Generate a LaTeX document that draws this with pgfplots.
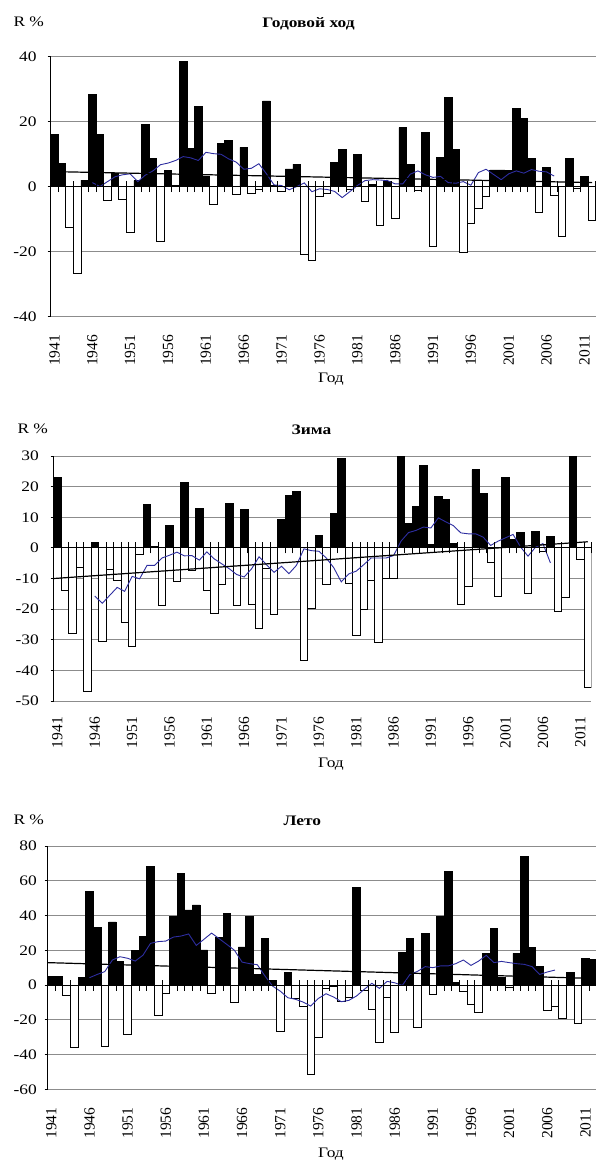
\documentclass[border=0pt]{standalone}
\usepackage{pgfplots}
\pgfplotsset{compat=1.18}
\usepackage{pgfplotstable}
\usepackage{fontspec}
\setmainfont{Liberation Serif}[FakeStretch=1.2]
\newfontfamily\rotfont{Liberation Serif}
\definecolor{mablue}{RGB}{45,45,160}
\definecolor{gridgray}{RGB}{140,140,140}

% R % anomalies: a = annual, w = winter, s = summer
\pgfplotstableread{
year a w s
1941 16.0 23.1 4.8
1942 7.0 -14.0 5.2
1943 -12.5 -27.8 -5.8
1944 -26.6 -6.5 -36.1
1945 2.0 -46.7 4.2
1946 28.3 1.9 53.7
1947 16.0 -30.5 33.4
1948 -4.2 -7.1 -35.5
1949 4.1 -10.7 36.3
1950 -4.0 -24.2 13.8
1951 -14.2 -32.2 -28.6
1952 1.8 -2.2 19.8
1953 19.1 14.3 27.8
1954 8.7 0.5 68.1
1955 -17.0 -18.9 -17.5
1956 4.8 7.4 -4.8
1957 0.3 -11.1 39.7
1958 38.5 21.3 64.1
1959 11.7 -7.3 43.2
1960 24.5 12.9 46.1
1961 3.1 -14.0 20.2
1962 -5.6 -21.3 -5.0
1963 13.1 -12.0 27.4
1964 14.2 14.5 41.1
1965 -2.3 -18.9 -9.8
1966 12.0 12.5 21.9
1967 -2.2 -18.3 39.3
1968 -1.0 -26.4 6.1
1969 26.3 -6.8 26.7
1970 0.3 -21.8 2.9
1971 -1.5 9.3 -26.9
1972 5.4 17.1 7.5
1973 6.9 18.5 -7.7
1974 -20.8 -36.6 -12.1
1975 -22.7 -19.6 -51.4
1976 -3.0 4.0 -30.3
1977 -2.0 -11.9 -1.9
1978 7.4 11.1 -0.5
1979 11.3 29.3 -9.6
1980 -1.0 -11.5 -6.9
1981 9.9 -28.6 56.4
1982 -4.5 -20.2 -3.1
1983 0.5 -10.5 -14.0
1984 -11.8 -30.9 -33.2
1985 1.5 -10.1 -6.9
1986 -9.9 -9.9 -27.1
1987 18.1 31.0 18.6
1988 6.7 8.1 26.7
1989 -1.3 13.5 -24.6
1990 16.6 26.9 29.9
1991 -18.5 1.0 -5.4
1992 8.8 16.9 39.3
1993 27.4 15.9 65.5
1994 11.5 1.5 1.3
1995 -20.3 -18.5 -3.8
1996 -11.4 -12.5 -11.3
1997 -6.7 25.5 -15.7
1998 -3.0 17.8 18.2
1999 5.1 -4.9 32.6
2000 5.1 -15.7 4.2
2001 4.8 22.9 -1.5
2002 24.1 2.7 18.2
2003 21.0 5.1 74.1
2004 8.5 -14.7 21.5
2005 -8.0 5.5 10.9
2006 5.8 -1.3 -14.6
2007 -2.7 3.8 -12.5
2008 -15.2 -20.9 -19.4
2009 8.5 -16.2 7.3
2010 -0.5 31.0 -21.9
2011 3.0 -3.6 15.4
2012 -10.5 -45.5 14.6
}\bars

% 11-year moving averages
\pgfplotstableread{
year a w s
1946 1.2 -15.7 4.2
1947 0.0 -18.1 6.1
1948 1.5 -15.5 7.7
1949 3.0 -12.9 14.4
1950 3.6 -14.2 16.3
1951 3.9 -9.3 15.4
1952 1.5 -10.1 13.8
1953 3.5 -5.7 17.1
1954 4.8 -5.7 24.0
1955 6.7 -3.3 25.0
1956 7.2 -2.4 25.3
1957 8.0 -1.4 27.6
1958 9.2 -2.6 28.2
1959 8.8 -2.5 29.4
1960 8.0 -4.0 22.8
1961 10.5 -1.3 26.3
1962 10.1 -3.6 29.9
1963 9.9 -5.2 26.7
1964 8.5 -6.8 23.4
1965 7.5 -8.7 20.0
1966 5.3 -9.5 13.2
1967 5.6 -6.8 12.3
1968 7.0 -2.9 11.7
1969 3.9 -5.5 5.2
1970 0.5 -8.0 -0.6
1971 0.3 -6.0 -3.5
1972 -1.0 -8.4 -7.3
1973 0.0 -5.7 -8.2
1974 1.1 -0.3 -9.8
1975 -1.6 -0.9 -12.1
1976 -0.7 -1.1 -7.7
1977 -0.9 -3.3 -5.0
1978 -1.5 -6.5 -6.9
1979 -3.4 -11.1 -9.6
1980 -1.6 -8.5 -8.8
1981 0.3 -7.6 -6.3
1982 1.8 -5.5 -2.5
1983 2.1 -3.3 1.0
1984 2.0 -3.3 -1.9
1985 1.8 -3.3 2.1
1986 0.8 -2.5 1.3
1987 0.8 2.2 -0.2
1988 3.8 5.0 6.1
1989 4.8 5.7 7.9
1990 3.6 6.8 10.6
1991 2.8 6.5 10.0
1992 3.1 9.8 11.0
1993 1.2 8.5 11.0
1994 1.0 7.3 12.3
1995 1.5 4.9 14.4
1996 0.4 4.6 11.3
1997 4.3 4.6 13.8
1998 5.3 3.5 17.1
1999 3.7 0.8 12.9
2000 2.1 2.2 13.6
2001 3.9 3.3 12.9
2002 4.8 4.4 12.3
2003 4.1 0.3 11.9
2004 5.2 -2.7 10.6
2005 4.7 0.2 6.1
2006 4.5 1.4 7.5
2007 3.2 -4.9 8.6
}\ma

\pgfplotsset{
  panel/.style={
    scale only axis, anchor=south west,
    xmin=1940.5, xmax=2012.5,
    axis x line*=bottom, axis y line*=left,
    x axis line style={draw=none},
    y axis line style={black, line width=0.8pt},
    xtick={1941,1946,...,2011},
    xticklabels={1941,1946,1951,1956,1961,1966,1971,1976,1981,1986,1991,1996,2001,2006,2011},
    xtick style={draw=none},
    ytick style={black, line width=0.8pt},
    tick align=outside, major tick length=3pt,
    xticklabel style={rotate=90, anchor=east, inner sep=0pt,
      font=\rotfont\fontsize{15.5}{15.5}\selectfont},
    yticklabel style={anchor=east, inner sep=0pt,
      font=\fontsize{14.5}{15}\selectfont},
    ymajorgrids, major grid style={gridgray, line width=0.8pt},
  },
  zeroaxis/.style={
    scale only axis, anchor=south west,
    xmin=1940.5, xmax=2012.5,
    axis x line=middle, axis y line=none,
    x axis line style={-, black, line width=1pt},
    xtick={1940.5,1941.5,...,2012.5}, xticklabels={}, ytick=\empty,
    tick align=center, major tick length=11pt,
    xtick style={black, line width=0.8pt},
  },
  posbar/.style={ybar, bar width=1, bar shift=0pt, fill=black, draw=black,
    line width=0.8pt, restrict y to domain=0:1000},
  negbar/.style={ybar, bar width=1, bar shift=0pt, fill=white, draw=black,
    line width=0.8pt, restrict y to domain=-1000:0},
  maline/.style={mablue, line width=0.9pt, mark=none},
  trend/.style={black, line width=1.2pt, mark=none},
}

\begin{document}
\begin{tikzpicture}[x=1pt,y=1pt]
\tikzset{lab/.style={font=\fontsize{14.5}{15}\selectfont, inner sep=0pt},
         ttl/.style={font=\bfseries\fontsize{14.5}{15}\selectfont, inner sep=0pt}}

% ---------------- Panel 1: annual ----------------
\begin{axis}[panel, at={(50.7pt,-316.7pt)}, width=545.1pt, height=260.4pt,
  ymin=-40, ymax=40, ytick={-40,-20,0,20,40}, yticklabels={-40,-20,0,20,40},
  xticklabel shift=15pt, yticklabel shift=11pt]
  \addplot[negbar] table[x=year,y=a] {\bars};
  \addplot[posbar] table[x=year,y=a] {\bars};
  \addplot[maline] table[x=year,y=a] {\ma};
  \addplot[trend] coordinates {(1940.5,4.6) (2012,1.2)};
\end{axis}
\begin{axis}[zeroaxis, at={(50.7pt,-316.7pt)}, width=545.1pt, height=260.4pt,
  ymin=-40, ymax=40]
\end{axis}
\node[lab, anchor=base west] at (13.3,-26.7) {R \%};
\node[ttl, anchor=base] at (308.5,-27.3) {Годовой ход};
\node[lab, anchor=base] at (331,-382.5) {Год};

% ---------------- Panel 2: winter ----------------
\begin{axis}[panel, at={(53.7pt,-701pt)}, width=537.8pt, height=245pt,
  ymin=-50, ymax=30, ytick={-50,-40,...,30}, yticklabels={-50,-40,-30,-20,-10,0,10,20,30},
  xticklabel shift=13pt, yticklabel shift=11.7pt]
  \addplot[negbar] table[x=year,y=w] {\bars};
  \addplot[posbar] table[x=year,y=w] {\bars};
  \addplot[maline] table[x=year,y=w] {\ma};
  \addplot[trend] coordinates {(1940.5,-10.0) (2012,2.0)};
\end{axis}
\begin{axis}[zeroaxis, at={(53.7pt,-701pt)}, width=537.8pt, height=245pt,
  ymin=-50, ymax=30]
\end{axis}
\node[lab, anchor=base west] at (17.3,-433.5) {R \%};
\node[ttl, anchor=base] at (311.5,-434) {Зима};
\node[lab, anchor=base] at (331,-767) {Год};

% ---------------- Panel 3: summer ----------------
\begin{axis}[panel, at={(47.5pt,-1089.3pt)}, width=549.4pt, height=243.3pt,
  ymin=-60, ymax=80, ytick={-60,-40,...,80}, yticklabels={-60,-40,-20,0,20,40,60,80},
  xticklabel shift=15pt, yticklabel shift=7.5pt]
  \addplot[negbar] table[x=year,y=s] {\bars};
  \addplot[posbar] table[x=year,y=s] {\bars};
  \addplot[maline] table[x=year,y=s] {\ma};
  \addplot[trend] coordinates {(1940.5,12.9) (2012,3.8)};
\end{axis}
\begin{axis}[zeroaxis, at={(47.5pt,-1089.3pt)}, width=549.4pt, height=243.3pt,
  ymin=-60, ymax=80]
\end{axis}
\node[lab, anchor=base west] at (13.3,-824) {R \%};
\node[ttl, anchor=base] at (302.4,-825) {Лето};
\node[lab, anchor=base] at (331,-1157) {Год};

\pgfresetboundingbox
\path[use as bounding box] (0,0) rectangle (595,-1171);
\end{tikzpicture}
\end{document}
